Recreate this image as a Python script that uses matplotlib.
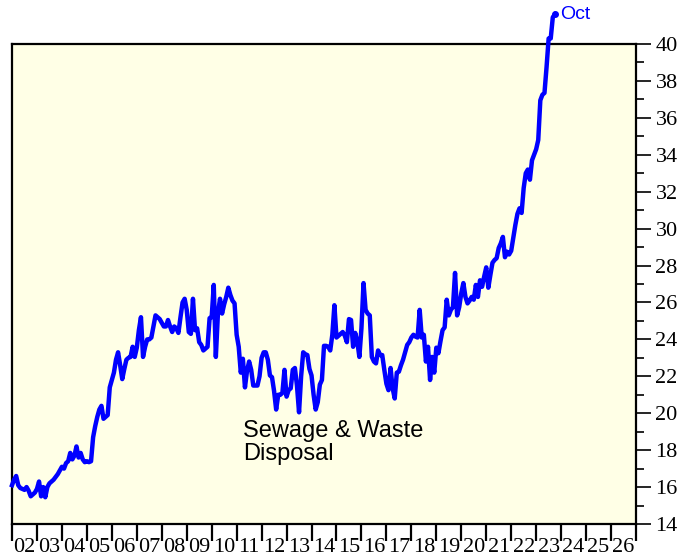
import matplotlib
matplotlib.use("Agg")
import matplotlib.pyplot as plt
import numpy as np

# monthly index values, Jan 2002 .. Oct 2023
years = list(range(2002, 2024))
v2002 = [16.1, 16.4, 16.6, 16.1, 15.95, 15.9, 15.85, 16.0, 15.8, 15.5, 15.6, 15.7]
v2003 = [15.9, 16.3, 15.5, 16.0, 15.45, 16.0, 16.2, 16.3, 16.4, 16.55, 16.7, 16.9]
v2004 = [17.1, 17.0, 17.3, 17.4, 17.85, 17.5, 17.7, 18.2, 17.6, 17.85, 17.5, 17.35]
v2005 = [17.4, 17.35, 17.4, 18.7, 19.3, 19.8, 20.2, 20.4, 19.7, 19.8, 19.9, 21.4]
v2006 = [21.8, 22.2, 22.9, 23.3, 22.6, 21.85, 22.4, 22.9, 23.0, 23.05, 23.6, 23.05]
v2007 = [23.55, 24.5, 25.2, 23.05, 23.6, 24.0, 24.0, 24.1, 24.7, 25.3, 25.2, 25.1]
v2008 = [24.9, 24.7, 24.7, 25.05, 24.7, 24.4, 24.7, 24.6, 24.35, 25.2, 26.0, 26.2]
v2009 = [25.6, 24.4, 24.3, 26.2, 24.5, 24.6, 23.85, 23.7, 23.4, 23.5, 23.6, 25.15]
v2010 = [25.2, 26.95, 23.05, 25.4, 26.2, 25.4, 25.9, 26.3, 26.8, 26.4, 26.1, 25.95]
v2011 = [24.25, 23.6, 22.2, 22.95, 21.4, 22.3, 22.8, 22.35, 21.5, 21.5, 21.5, 22.0]
v2012 = [23.0, 23.3, 23.3, 22.9, 22.05, 21.95, 21.2, 20.2, 21.0, 21.0, 21.1, 22.35]
v2013 = [20.9, 21.25, 21.35, 22.35, 22.45, 21.5, 20.05, 22.0, 23.3, 23.2, 23.15, 22.4]
v2014 = [22.05, 21.0, 20.2, 20.6, 21.55, 21.8, 23.65, 23.65, 23.6, 23.4, 24.25, 25.85]
v2015 = [24.1, 24.2, 24.3, 24.4, 24.2, 23.85, 25.1, 25.05, 23.6, 24.35, 23.9, 23.05]
v2016 = [24.6, 27.05, 25.6, 25.4, 25.3, 23.05, 22.8, 22.7, 23.4, 23.15, 23.15, 22.35]
v2017 = [21.6, 21.25, 22.45, 21.35, 20.8, 22.2, 22.25, 22.6, 22.9, 23.3, 23.7, 23.85]
v2018 = [24.1, 24.25, 24.15, 24.1, 25.6, 24.1, 24.25, 22.8, 23.6, 21.8, 23.05, 22.2]
v2019 = [23.55, 23.25, 23.9, 24.5, 24.65, 26.15, 25.3, 25.6, 25.75, 27.6, 25.3, 25.75]
v2020 = [26.5, 27.05, 26.3, 25.95, 26.1, 26.3, 26.15, 26.95, 26.3, 27.2, 26.85, 27.4]
v2021 = [27.9, 26.8, 27.5, 28.15, 28.3, 28.4, 28.95, 29.2, 29.55, 28.45, 28.75, 28.6]
v2022 = [28.8, 29.5, 30.2, 30.8, 31.1, 30.85, 32.2, 33.0, 33.2, 32.65, 33.7, 34.0]
v2023 = [34.3, 34.8, 36.95, 37.25, 37.35, 38.75, 40.3, 40.3, 41.45, 41.6]

values = (v2002 + v2003 + v2004 + v2005 + v2006 + v2007 + v2008 + v2009 + v2010
          + v2011 + v2012 + v2013 + v2014 + v2015 + v2016 + v2017 + v2018
          + v2019 + v2020 + v2021 + v2022 + v2023)
t = 2002 + np.arange(len(values)) / 12.0

year_ticks = list(range(2002, 2028))
year_labels = ["%02d" % (y % 100) for y in range(2002, 2027)]
y_major = list(range(14, 41, 2))
y_minor = list(range(15, 40, 2))

fig = plt.figure(figsize=(6.96, 5.59), dpi=100)
ax = fig.add_axes([12 / 696, 35 / 559, 624 / 696, 480 / 559])
ax.set_facecolor("#FFFFE6")
ax.set_xlim(2002, 2027)
ax.set_ylim(14, 40)

for s in ax.spines.values():
    s.set_linewidth(1.6)
    s.set_color("black")

# right-hand y axis
ax.yaxis.tick_right()
ax.set_yticks(y_major)
ax.set_yticks(y_minor, minor=True)
ax.tick_params(axis="y", which="major", direction="out", length=11, width=1.2,
               pad=3, labelsize=16, right=True, left=False)
ax.tick_params(axis="y", which="minor", direction="out", length=5.5, width=1.2,
               right=True, left=False)

# year boundaries as ticks, labels centred between them
ax.set_xticks(year_ticks)
ax.set_xticklabels([])
ax.set_xticks([y + 0.5 for y in range(2002, 2027)], minor=True)
ax.set_xticklabels(year_labels, minor=True)
ax.tick_params(axis="x", which="major", direction="out", length=12.5, width=1.6)
ax.tick_params(axis="x", which="minor", length=0, pad=10, labelsize=16)

for lab in ax.get_xticklabels(minor=True) + ax.get_yticklabels():
    lab.set_fontfamily("Liberation Serif")

ax.plot(t, values, color="#0000FF", lw=3.2, clip_on=False, solid_joinstyle="round", zorder=5)
ax.plot(t[-1], values[-1], "o", color="#0000FF", ms=4, clip_on=False, zorder=6)
ax.text(t[-1] + 0.2, values[-1], "Oct", color="#0000FF", fontsize=14,
        family="Liberation Sans", ha="left", va="center")

ax.text(2011.26, 19.65, "Sewage & Waste\nDisposal", fontsize=17,
        family="Liberation Sans", ha="left", va="top", linespacing=1.05)

fig.savefig("out.png", dpi=100, facecolor="white")
